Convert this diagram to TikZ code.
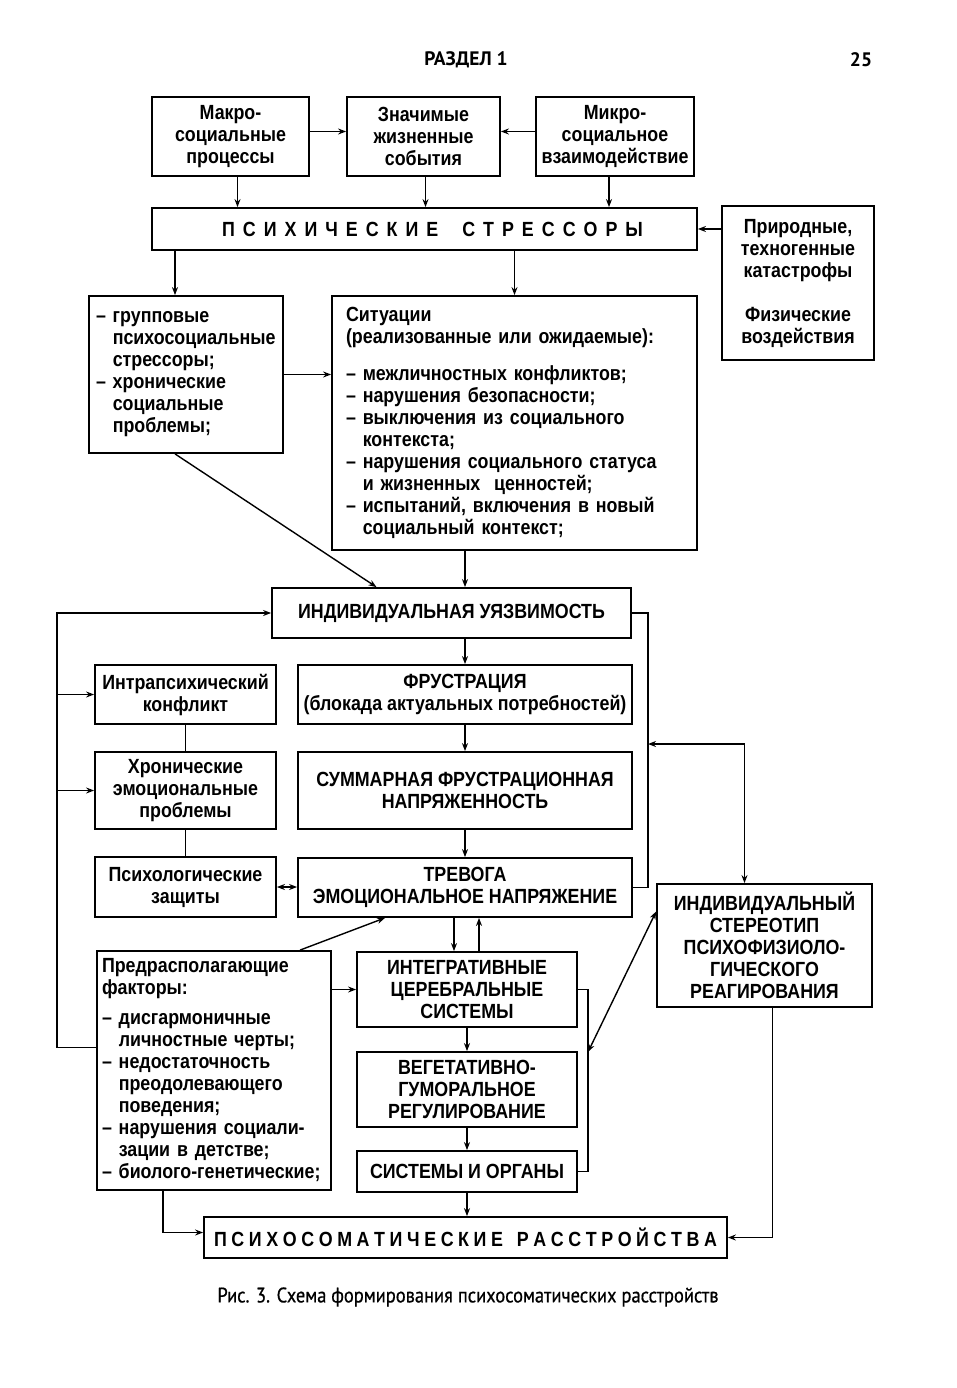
\documentclass[tikz,border=0pt]{standalone}
\usepackage{fontspec}
\setmainfont{Liberation Sans}
\newfontfamily\diagfont{Liberation Sans}[FakeStretch=0.87]
\newfontfamily\headfont{PT Sans}
\newfontfamily\capfont{PT Sans}[FakeStretch=0.88,FakeBold=0.6]
\usetikzlibrary{arrows.meta}
\newcommand{\hang}{\hphantom{– }}
\newcommand{\ls}{\hspace{\letgap}}
\def\letgap{10pt}

\begin{document}
\begin{tikzpicture}[x=1pt,y=-1pt,
  >={Stealth[length=8pt,width=6pt]},
  box/.style={draw,line width=1.8pt,inner sep=0pt,align=center,
    font=\diagfont\bfseries\fontsize{20.5}{22}\selectfont},
  link/.style={line width=1.4pt}]
% white page, fixes the margins
\fill[white] (0,0) rectangle (957,1388);
\useasboundingbox (0,0) rectangle (957,1388);

% page head
\node[font=\headfont\bfseries\fontsize{19.5}{22}\selectfont] (head) at (466,60) {РАЗДЕЛ 1};
\node[font=\headfont\bfseries\fontsize{19.5}{22}\selectfont] (page) at (861,60) {25};

% top row
\node[box,minimum width=157,minimum height=79] (macro) at (230.5,136.5) {Макро-\\социальные\\процессы};
\node[box,minimum width=153,minimum height=79] (znach) at (423.5,136.5) {Значимые\\жизненные\\события};
\node[box,minimum width=158,minimum height=79] (mikro) at (615,136.5) {Микро-\\социальное\\взаимодействие};

% stressors
\node[box,minimum width=545,minimum height=42] (stress) at (424.5,229)
  {\def\letgap{8pt}\hspace{16pt}П\ls С\ls И\ls Х\ls И\ls Ч\ls Е\ls С\ls К\ls И\ls Е\ls\ls\ls С\ls Т\ls Р\ls Е\ls С\ls С\ls О\ls Р\ls Ы};
\node[box,minimum width=152,minimum height=154] (prirod) at (798,283)
  {Природные,\\техногенные\\катастрофы\\[22pt]Физические\\воздействия};

% kinds of stressors
\node[box,align=left,minimum width=194,minimum height=157,text width=180] (group) at (186,374.5)
  {– групповые\\\hang психосоциальные\\\hang стрессоры;\\– хронические\\\hang социальные\\\hang проблемы;};
\node[box,align=left,minimum width=365,minimum height=254,text width=337] (sit) at (514.5,423)
  {Ситуации\\(реализованные или ожидаемые):\\[15pt]– межличностных конфликтов;\\– нарушения безопасности;\\– выключения из социального\\\hang контекста;\\– нарушения социального статуса\\\hang и жизненных\ \ ценностей;\\– испытаний, включения в новый\\\hang социальный контекст;};

% central column
\node[box,minimum width=359,minimum height=50] (uyaz) at (451.5,613) {ИНДИВИДУАЛЬНАЯ УЯЗВИМОСТЬ};
\node[box,minimum width=334,minimum height=59] (frust) at (465,694.5) {ФРУСТРАЦИЯ\\(блокада актуальных потребностей)};
\node[box,minimum width=334,minimum height=77] (summ) at (465,790.5) {СУММАРНАЯ ФРУСТРАЦИОННАЯ\\НАПРЯЖЕННОСТЬ};
\node[box,minimum width=334,minimum height=59] (trev) at (465,887.5) {ТРЕВОГА\\ЭМОЦИОНАЛЬНОЕ НАПРЯЖЕНИЕ};

% left column
\node[box,minimum width=181,minimum height=59] (intra) at (185.5,694.5) {Интрапсихический\\конфликт};
\node[box,minimum width=181,minimum height=77] (chron) at (185.5,790.5) {Хронические\\эмоциональные\\проблемы};
\node[box,minimum width=181,minimum height=60] (psych) at (185.5,887) {Психологические\\защиты};

% lower part
\node[box,minimum width=215,minimum height=123] (stereo) at (764.5,945.5)
  {ИНДИВИДУАЛЬНЫЙ\\СТЕРЕОТИП\\ПСИХОФИЗИОЛО-\\ГИЧЕСКОГО\\РЕАГИРОВАНИЯ};
\node[box,align=left,minimum width=234,minimum height=239,text width=224] (predr) at (214,1070.5)
  {Предрасполагающие\\факторы:\\[8pt]– дисгармоничные\\\hang личностные черты;\\– недостаточность\\\hang преодолевающего\\\hang поведения;\\– нарушения социали-\\\hang зации в детстве;\\– биолого-генетические;};
\node[box,minimum width=220,minimum height=75] (integr) at (467,989.5) {ИНТЕГРАТИВНЫЕ\\ЦЕРЕБРАЛЬНЫЕ\\СИСТЕМЫ};
\node[box,minimum width=220,minimum height=75] (veget) at (467,1089.5) {ВЕГЕТАТИВНО-\\ГУМОРАЛЬНОЕ\\РЕГУЛИРОВАНИЕ};
\node[box,minimum width=220,minimum height=41] (organs) at (467,1171.5) {СИСТЕМЫ И ОРГАНЫ};
\node[box,minimum width=523,minimum height=41] (psysom) at (465.5,1237.5)
  {\def\letgap{4.6pt}П\ls С\ls И\ls Х\ls О\ls С\ls О\ls М\ls А\ls Т\ls И\ls Ч\ls Е\ls С\ls К\ls И\ls Е\ls\ls\ls Р\ls А\ls С\ls С\ls Т\ls Р\ls О\ls Й\ls С\ls Т\ls В\ls А};

% caption
\node[font=\capfont\fontsize{21}{24}\selectfont] (cap) at (468,1297) {Рис. 3. Схема формирования психосоматических расстройств};

% bends of the bus lines
\coordinate (busL) at (57,613);
\coordinate (busR) at (648,744);
\coordinate (busS) at (588,1052);

% top connectors
\draw[link,->] ([yshift=5pt]macro.east) -- ([yshift=5pt]znach.west);
\draw[link,->] ([yshift=5pt]mikro.west) -- ([yshift=5pt]znach.east);
\draw[link,->] ([xshift=7pt]macro.south) -- ([xshift=7pt]macro.south |- stress.north);
\draw[link,->] ([xshift=2pt]znach.south) -- ([xshift=2pt]znach.south |- stress.north);
\draw[link,->] ([xshift=-6pt]mikro.south) -- ([xshift=-6pt]mikro.south |- stress.north);
\draw[link,->] (stress.east -| prirod.west) -- (stress.east);
\draw[link,->] ([xshift=-11pt]group.north |- stress.south) -- ([xshift=-11pt]group.north);
\draw[link,->] (sit.north |- stress.south) -- (sit.north);
\draw[link,->] (group.east) -- (group.east -| sit.west);
\draw[link,->] ([xshift=-11pt]group.south) -- ([xshift=-75pt]uyaz.north);
\draw[link,->] (sit.south -| frust) -- (uyaz.north -| frust);

% central chain
\draw[link,->] (uyaz.south -| frust) -- (frust.north);
\draw[link,->] (frust) -- (summ);
\draw[link,->] (summ) -- (trev);
\draw[link] (uyaz.east) -| (busR) |- (trev.east);
\draw[link,<->] (busR) -| ([xshift=-20pt]stereo.north);

% left side
\draw[link,->] ([yshift=23pt]predr.west) -| (busL) -- (uyaz.west);
\draw[link,->] (busL |- intra.west) -- (intra.west);
\draw[link,->] (busL |- chron.west) -- (chron.west);
\draw[link] (intra.south) -- (chron.north);
\draw[link] (chron.south) -- (psych.north);
\draw[link,<->] (psych.east) -- (psych.east -| trev.west);

% lower chain
\draw[link,->] ([xshift=-11pt]trev.south) -- ([xshift=-11pt]trev.south |- integr.north);
\draw[link,->] ([xshift=14pt]trev.south |- integr.north) -- ([xshift=14pt]trev.south);
\draw[link,->] ([xshift=86pt]predr.north) -- ([xshift=-80pt]trev.south);
\draw[link,->] (predr.east |- integr) -- (integr.west);
\draw[link,->] (integr) -- (veget);
\draw[link,->] (veget) -- (organs);
\draw[link,->] (organs.south) -- (organs.south |- psysom.north);
\draw[link] (integr.east) -| (busS) |- (organs.east);
\draw[link,<->] (busS) -- ([yshift=34pt]stereo.west);
\draw[link,->] ([xshift=8pt]stereo.south) |- (psysom.east);
\draw[link,->] ([xshift=-51pt]predr.south) |- ([yshift=5pt]psysom.west);

\end{tikzpicture}
\end{document}
